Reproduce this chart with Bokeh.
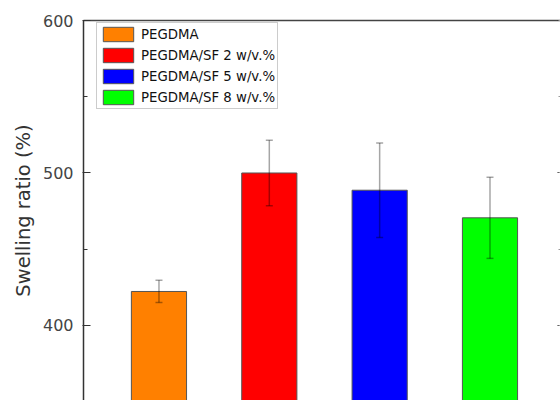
from bokeh.plotting import figure
from bokeh.models import (ColumnDataSource, Range1d, SingleIntervalTicker, LinearAxis,
                          Whisker, TeeHead, Legend, LegendItem)
from bokeh.embed import file_html
from bokeh.resources import INLINE

# ---- data ----
categories = ["PEGDMA", "PEGDMA/SF 2 w/v.%", "PEGDMA/SF 5 w/v.%", "PEGDMA/SF 8 w/v.%"]
swelling = [422.3, 500.0, 488.7, 470.6]
errors = [7.3, 21.5, 31.0, 26.6]
colors = ["#FF8000", "#FF0000", "#0000FF", "#00FF00"]

xs = [i + 1 for i in range(len(categories))]
upper = [v + e for v, e in zip(swelling, errors)]
lower = [v - e for v, e in zip(swelling, errors)]

src = ColumnDataSource(dict(x=xs, top=swelling, upper=upper, lower=lower,
                            color=colors, label=categories))

FONT = "DejaVu Sans"

p = figure(width=560, height=400, output_backend="svg", toolbar_location=None,
           x_range=Range1d(0.316, 4.639), y_range=Range1d(350.8, 600),
           x_axis_location=None)
p.min_border_left = 83
p.min_border_top = 20
p.min_border_bottom = 0
p.min_border_right = 0
p.background_fill_color = "white"
p.border_fill_color = "white"
p.grid.visible = False
p.outline_line_color = None

renderers = []
for i in range(len(categories)):
    sub = ColumnDataSource(dict(x=[xs[i]], top=[swelling[i]]))
    r = p.vbar(x="x", top="top", bottom=0, width=0.5, source=sub,
               fill_color=colors[i], line_color="#555555", line_width=1)
    renderers.append(r)

wh = Whisker(base="x", upper="upper", lower="lower", source=src,
             line_color="black", line_alpha=0.35, line_width=1.5, level="overlay")
wh.upper_head = TeeHead(size=7, line_color="black", line_alpha=0.35, line_width=1.5)
wh.lower_head = TeeHead(size=7, line_color="black", line_alpha=0.35, line_width=1.5)
p.add_layout(wh)

ax = p.yaxis[0]
ax.ticker = SingleIntervalTicker(interval=100, num_minor_ticks=2)
ax.axis_label = "Swelling ratio (%)"
ax.axis_label_text_font = FONT
ax.axis_label_text_font_size = "19.5px"
ax.axis_label_text_font_style = "normal"
ax.axis_label_text_color = "#333333"
ax.axis_label_standoff = 5
ax.major_label_text_font = FONT
ax.major_label_text_font_size = "16px"
ax.major_label_text_color = "#444444"
ax.major_label_standoff = 9
ax.axis_line_color = "#333333"
ax.axis_line_width = 1.5
ax.major_tick_line_color = "#333333"
ax.minor_tick_line_color = "#333333"
ax.major_tick_in = 7
ax.major_tick_out = 1
ax.minor_tick_in = 4
ax.minor_tick_out = 0

# right axis: only short inward ticks visible at the cropped edge
rax = LinearAxis(ticker=SingleIntervalTicker(interval=100, num_minor_ticks=2))
rax.axis_line_color = None
rax.major_label_text_color = None
rax.major_label_standoff = 0
rax.major_tick_in = 3
rax.major_tick_out = 0
rax.minor_tick_in = 2
rax.minor_tick_out = 0
rax.major_tick_line_color = "#333333"
rax.minor_tick_line_color = "#999999"
p.add_layout(rax, "right")

# top frame border
tax = LinearAxis(ticker=SingleIntervalTicker(interval=100, num_minor_ticks=0))
tax.axis_line_color = "#444444"
tax.axis_line_width = 1.5
tax.major_label_text_color = None
tax.major_label_standoff = 0
tax.major_tick_in = 0
tax.major_tick_out = 0
tax.minor_tick_in = 0
tax.minor_tick_out = 0
p.add_layout(tax, "above")

items = [LegendItem(label=categories[i], renderers=[renderers[i]]) for i in range(len(categories))]
legend = Legend(items=items)
legend.margin = 0
legend.location = (13, 291)
legend.padding = 2
legend.spacing = 3
legend.glyph_width = 38
legend.glyph_height = 18
legend.label_height = 18
legend.label_standoff = 4
legend.label_text_font = FONT
legend.label_text_font_size = "13.3px"
legend.label_text_color = "#111111"
legend.border_line_color = "#999999"
legend.border_line_width = 1
legend.background_fill_color = "white"
p.add_layout(legend, "center")

open("out.html", "w").write(file_html(p, INLINE))
